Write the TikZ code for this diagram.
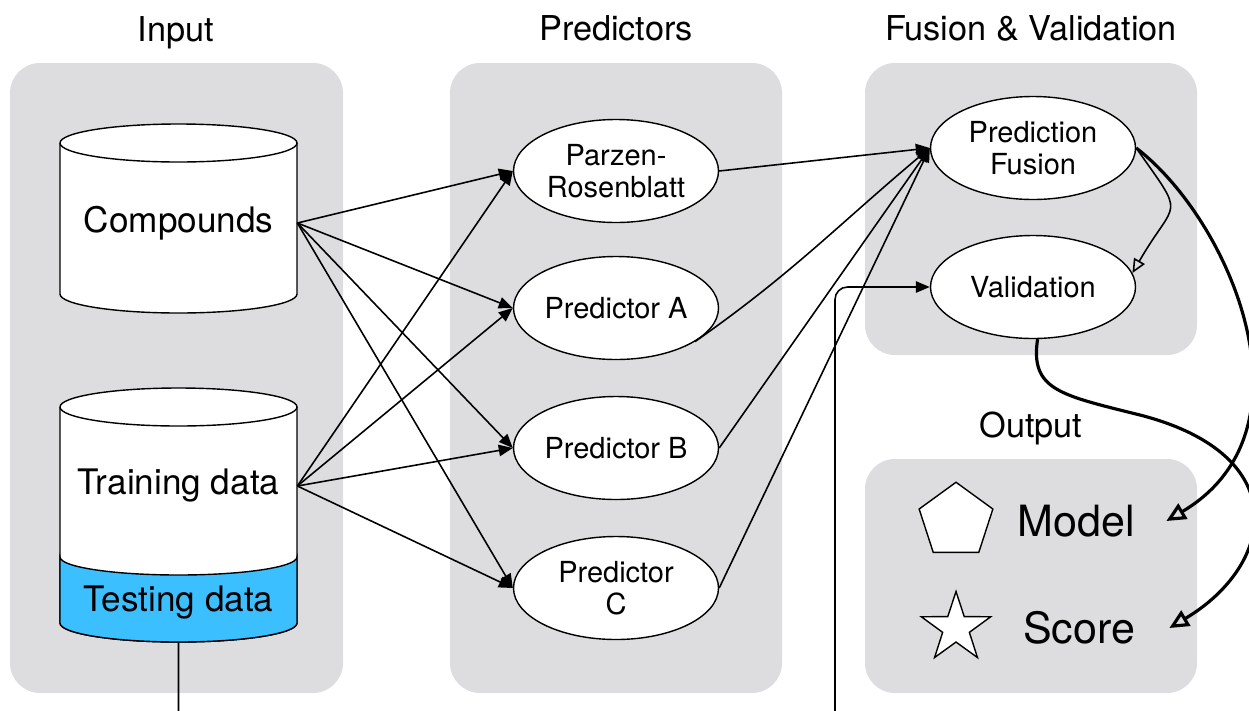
\documentclass[tikz,border=0pt]{standalone}
\usepackage{fontspec}
\setmainfont{TeX Gyre Heros}
\usetikzlibrary{arrows.meta}
\usetikzlibrary{shapes.geometric}
\usetikzlibrary{shapes.symbols}
\usetikzlibrary{positioning}

\definecolor{panelgray}{RGB}{221,221,223}
\definecolor{testblue}{RGB}{59,191,255}

\begin{document}
\begin{tikzpicture}[
    panel/.style={fill=panelgray, rounded corners=0.6cm},
    coltitle/.style={font=\fontsize{19.5}{23}\selectfont},
    dbshape/.style={draw, line width=0.8pt, fill=white},
    dbtext/.style={font=\fontsize{20}{24}\selectfont, minimum width=4.74cm, inner sep=0pt},
    pred/.style={draw, line width=0.8pt, fill=white, ellipse, minimum width=4.1cm, minimum height=2.06cm, inner sep=0pt, align=center, font=\fontsize{16.5}{18.5}\selectfont},
    icon/.style={draw, line width=0.8pt, fill=white, inner sep=0pt},
    outtext/.style={font=\fontsize{24.5}{28}\selectfont, minimum width=3.6cm, inner sep=0pt},
    arr/.style={line width=0.9pt, -{Triangle[length=8pt,width=6.5pt]}},
    bigarr/.style={line width=1.8pt, -{Triangle[open,length=11pt,width=10pt]}}
]
    \useasboundingbox (0,0) rectangle (24.98,-14.2);

    % background panels
    \fill [panel] (0.2,-1.26) rectangle ++(6.66,-12.6);
    \fill [panel] (9.0,-1.26) rectangle ++(6.64,-12.6);
    \fill [panel] (17.3,-1.26) rectangle ++(6.64,-5.84);
    \fill [panel] (17.3,-9.18) rectangle ++(6.64,-4.68);

    \node [coltitle] (intitle) at (3.52,-0.66) {Input};
    \node [coltitle] (predtitle) at (12.32,-0.56) {Predictors};
    \node [coltitle] (fustitle) at (20.62,-0.56) {Fusion \& Validation};
    \node [coltitle] (outtitle) at (20.62,-8.56) {Output};

    % input data (cylinders)
    \path [dbshape] (1.2,-2.86) -- (1.2,-5.88) arc [start angle=180, end angle=360, x radius=2.37cm, y radius=0.38cm]
        -- (5.94,-2.86) arc [start angle=0, end angle=180, x radius=2.37cm, y radius=0.38cm] -- cycle;
    \draw [line width=0.8pt] (1.2,-2.86) arc [start angle=180, end angle=360, x radius=2.37cm, y radius=0.38cm];
    \path [dbshape] (1.2,-8.14) -- (1.2,-12.46) arc [start angle=180, end angle=360, x radius=2.37cm, y radius=0.38cm]
        -- (5.94,-8.14) arc [start angle=0, end angle=180, x radius=2.37cm, y radius=0.38cm] -- cycle;
    \draw [line width=0.8pt] (1.2,-8.14) arc [start angle=180, end angle=360, x radius=2.37cm, y radius=0.38cm];
    \filldraw [fill=testblue, line width=0.8pt] (1.2,-11.14) arc [start angle=180, end angle=360, x radius=2.37cm, y radius=0.36cm]
        -- (5.94,-12.46) arc [start angle=0, end angle=-180, x radius=2.37cm, y radius=0.38cm] -- cycle;
    \node [dbtext] (comp) at (3.57,-4.46) {Compounds};
    \node [dbtext] (train) at (3.57,-9.72) {Training data};
    \node [dbtext, minimum height=1.56cm] (test) at (3.57,-12.06) {Testing data};

    % predictors
    \node [pred] (parzen) at (12.32,-3.42) {Parzen-\\Rosenblatt};
    \node [pred] (preda) at (12.32,-6.16) {Predictor A};
    \node [pred] (predb) at (12.32,-8.96) {Predictor B};
    \node [pred] (predc) at (12.32,-11.76) {Predictor\\C};

    % fusion and validation
    \node [pred] (fusion) at (20.66,-2.96) {Prediction\\Fusion};
    \node [pred] (valid) at (20.66,-5.74) {Validation};

    % output
    \node [icon, regular polygon, regular polygon sides=5, minimum size=1.55cm] (modelicon) at (19.12,-10.42) {};
    \node [icon, star, star points=5, star point ratio=2.6, minimum size=1.46cm] (scoreicon) at (19.12,-12.56) {};
    \node [outtext] (model) at (21.52,-10.42) {Model};
    \node [outtext] (score) at (21.58,-12.56) {Score};

    \foreach \src in {comp, train}
        \foreach \dst in {parzen, preda, predb, predc}
            \draw [arr] (\src.east) -- (\dst.west);

    \draw [arr] (parzen.east) -- (fusion.west);
    \draw [arr] (preda.-23) to [out=35, in=-140] (fusion.west);
    \draw [arr] (predb.east) -- (fusion.west);
    \draw [arr] (predc.east) -- (fusion.west);

    \coordinate (lowturn) at (16.7,-14.6);
    \draw [arr, rounded corners=0.25cm] (test.south) |- (lowturn) |- (valid.west);

    \draw [line width=0.9pt, -{Triangle[open,length=8pt,width=7pt]}] (fusion.east) to [out=-55, in=60, looseness=1.8] (valid.8);
    \draw [bigarr] (fusion.east) .. controls (24.6,-4.4) and (26.4,-8.6) .. (model.east);
    \draw [bigarr] (valid.-85) .. controls (20.6,-7.8) and (21.2,-7.9) .. (22.8,-8.3)
        .. controls (25.9,-9.1) and (25.5,-11.3) .. (score.east);
\end{tikzpicture}
\end{document}
